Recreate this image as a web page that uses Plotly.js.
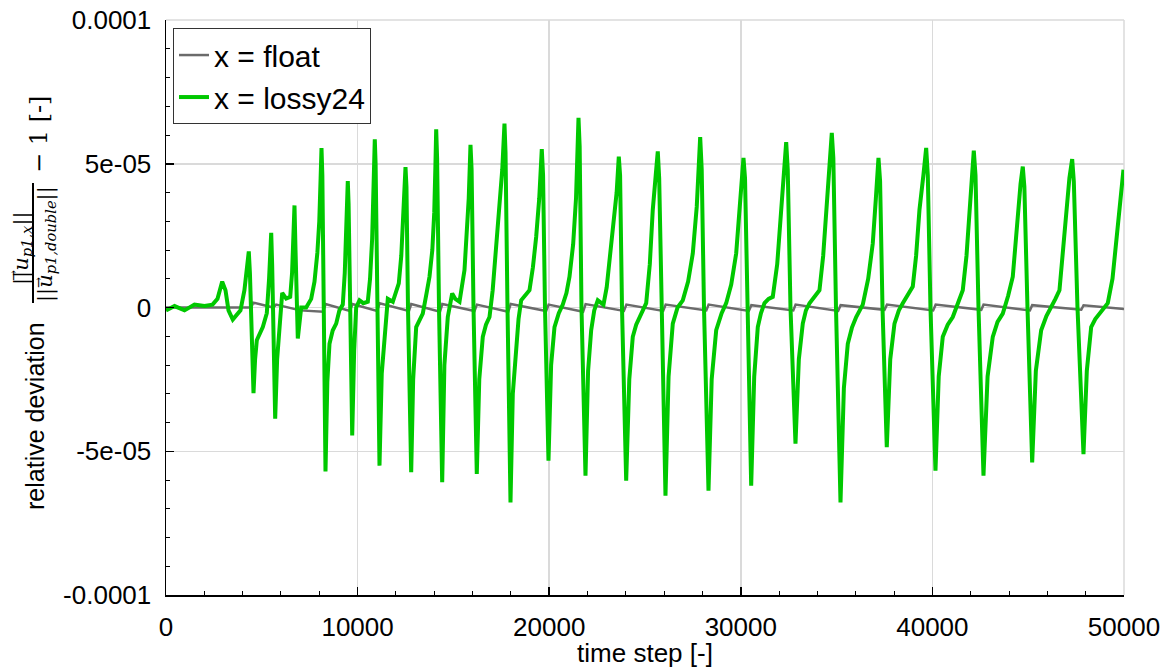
<!DOCTYPE html>
<html>
<head>
<meta charset="utf-8">
<script src="https://cdn.plot.ly/plotly-3.0.1.min.js"></script>
<style>html,body{margin:0;padding:0;background:#fff;}#chart{width:1166px;height:668px;}</style>
</head>
<body>
<div id="chart"></div>
<script>
// green series: time steps and relative deviation (units of 1e-5)
var greenStep = [
 0,444,966,1487,2009,2427,2688,2933,3105,3262,3486,3732,3888,4093,4230,
 4321,4380,4446,4567,4650,4739,5052,5261,5380,5450,
 5491,5540,5584,5699,5800,5924,6065,6273,6482,6580,6650,
 6706,6760,6811,6879,7056,7317,7578,7750,7900,8000,8070,
 8116,8160,8220,8324,8420,8533,8700,8883,9050,9227,9330,9420,
 9488,9530,9603,9718,9820,9926,10099,10300,10532,10650,10760,10840,
 10897,10940,11012,11143,11260,11403,11576,11837,12000,12150,12280,12359,12440,
 12500,12550,12630,12797,12900,13058,13250,13402,13600,13752,13900,14000,14060,
 14102,14150,14248,14415,14530,14707,14937,15100,15318,15579,15700,15800,
 15892,15950,16049,16221,16350,16534,16700,16884,17050,17233,17400,17550,
 17666,17720,17823,17980,18100,18277,18400,18538,18750,18971,19150,19321,19480,
 19613,19680,19780,19963,20100,20276,20500,20709,20900,21059,21250,21400,
 21529,21590,21685,21894,22030,22191,22350,22536,22833,23000,23147,23350,23520,
 23632,23700,23799,24018,24180,24362,24540,24712,24880,25062,25250,25406,25560,
 25667,25740,25860,26069,26230,26450,26700,26972,27250,27494,27700,
 27880,27960,28079,28314,28480,28716,29000,29238,29500,29759,29970,
 30140,30220,30349,30542,30700,30887,31050,31236,31450,31669,31900,32108,32250,
 32369,32450,32593,32854,33030,33235,33400,33585,33850,34106,34300,34456,34620,
 34749,34830,34968,35203,35380,35584,35800,36022,36200,36366,36650,36888,37050,
 37186,37270,37395,37619,37800,38021,38250,38454,38700,38976,39150,39325,39530,
 39675,39760,39899,40160,40330,40541,40800,41063,41300,41585,41780,41935,42060,
 42160,42250,42405,42666,42880,43151,43400,43673,43950,44195,44330,44456,44600,
 44717,44800,44962,45207,45400,45677,45950,46199,46420,46632,46800,46982,47150,
 47295,47380,47572,47885,48060,48287,48500,48720,48950,49153,49400,49592,49800,49972];
var greenVal = [
 -0.1,0.05,-0.1,0.1,0.05,0.1,0.3,0.9,0.6,-0.1,-0.42,-0.25,-0.1,0.6,1.3,
 1.95,1.2,0.0,-2.98,-1.8,-1.14,-0.68,-0.2,1.0,2.0,
 2.6,1.5,0.0,-3.87,-1.8,-0.68,0.51,0.31,0.37,1.2,2.5,
 3.55,2.0,0.0,-1.08,0.0,0.0,0.3,0.9,1.9,3.0,4.5,
 5.55,4.6,0.0,-5.7,-2.6,-1.26,-0.8,-0.56,-0.1,0.1,1.2,2.9,
 4.4,3.6,0.0,-4.45,-1.5,0.0,0.25,0.15,0.2,1.0,2.4,4.2,
 5.85,5.0,0.0,-5.5,-2.3,-1.02,0.3,0.2,0.5,0.84,1.8,2.8,4.0,
 4.88,4.2,0.0,-5.73,-2.5,-0.68,-0.4,-0.21,0.5,1.07,2.0,3.3,4.9,
 6.2,5.2,0.0,-6.08,-2.0,-0.33,0.49,0.3,0.2,1.3,2.5,3.8,
 5.66,4.8,0.0,-5.79,-2.5,-1.02,-0.6,-0.33,0.6,2.0,3.3,4.8,
 6.4,5.4,0.0,-6.78,-3.0,-1.26,-0.4,0.25,0.4,0.6,1.4,2.46,3.8,
 5.51,4.6,0.0,-5.33,-2.0,-0.68,-0.2,0.1,0.5,1.07,2.2,3.8,
 6.6,5.6,0.0,-5.85,-2.2,-0.79,-0.1,0.25,0.1,0.7,1.65,2.8,4.0,
 5.25,4.6,0.0,-6.02,-2.5,-1.02,-0.6,-0.33,-0.1,0.15,1.5,3.4,4.6,
 5.43,4.5,0.0,-6.55,-2.4,-0.56,0.0,0.25,0.9,1.88,3.5,
 5.93,4.8,0.0,-6.37,-2.5,-0.79,-0.2,0.15,0.8,1.88,3.5,
 5.2,4.5,0.0,-6.2,-2.4,-0.68,-0.2,0.15,0.3,0.37,1.5,3.4,4.5,
 5.75,4.8,0.0,-4.74,-1.8,-0.56,-0.1,0.15,0.4,0.6,1.8,3.4,4.8,
 6.07,5.2,0.0,-6.78,-2.8,-1.26,-0.7,-0.33,-0.1,0.1,1.0,2.23,3.8,
 5.2,4.4,0.0,-4.86,-1.8,-0.56,-0.1,0.15,0.4,0.73,1.8,3.4,4.6,
 5.55,4.6,0.0,-5.68,-2.4,-1.02,-0.6,-0.33,0.1,0.6,1.8,3.4,4.6,
 5.46,4.6,0.0,-5.85,-2.4,-1.02,-0.5,-0.21,0.4,1.07,2.2,3.4,4.3,
 4.9,4.2,0.0,-5.39,-2.2,-0.79,-0.3,0.0,0.3,0.6,1.8,3.4,4.5,
 5.16,4.4,0.0,-5.1,-2.2,-0.68,-0.4,-0.21,0.0,0.15,1.0,2.23,3.6,4.79];

// gray series: time steps and relative deviation (units of 1e-5)
var grayStep = [0,2600,4450,4550,5600,5750,7000,8200,8330,9600,9730,11020,11150,12680,12800,14300,14420,16100,16230,17860,17990,19840,19970,21770,21900,23900,24030,25950,26080,28200,28320,30420,30550,32740,32860,35080,35210,37500,37630,40040,40170,42550,42670,45090,45210,47770,47890,50000];
var grayVal = [0.0,0.0,0.0,0.17,0.0,0.1,-0.1,-0.15,0.12,-0.12,0.12,-0.12,0.15,-0.12,0.12,-0.15,0.12,-0.12,0.1,-0.15,0.12,-0.12,0.1,-0.15,0.12,-0.12,0.1,-0.12,0.1,-0.1,0.1,-0.12,0.08,-0.1,0.1,-0.12,0.08,-0.08,0.1,-0.1,0.1,-0.08,0.1,-0.1,0.08,-0.08,0.08,-0.05];

var yTickVals = [-0.0001,-0.00005,0,0.00005,0.0001];
var yTickText = ["-0.0001","-5e-05","0","5e-05","0.0001"];
var xTickVals = [0,10000,20000,30000,40000,50000];
var xTickText = ["0","10000","20000","30000","40000","50000"];
var seriesNames = ["x = float","x = lossy24"];

var scale = 1e-5;
var traces = [
  {x: grayStep, y: grayVal.map(function(v){return v*scale;}), name: seriesNames[0], mode:'lines',
   line:{color:'#6b6b6b', width:2.5}},
  {x: greenStep, y: greenVal.map(function(v){return v*scale;}), name: seriesNames[1], mode:'lines',
   line:{color:'#00c800', width:4}}
];

var F = '"Liberation Sans", Arial, Helvetica, sans-serif';
var SERIF = '"DejaVu Serif", "Liberation Serif", serif';
function px(x){return (x-166)/958;}
function py(y){return (595-y)/575;}

var layout = {
  width:1166, height:668,
  margin:{l:166, r:42, t:20, b:73},
  paper_bgcolor:'#fff', plot_bgcolor:'#fff',
  font:{family:F, color:'#000', size:26},
  showlegend:true,
  legend:{x:0.0073, y:0.986, xanchor:'left', yanchor:'top', bgcolor:'#fff', bordercolor:'#333', borderwidth:1,
          font:{family:F, size:30, color:'#000'}, tracegroupgap:0, itemwidth:30},
  xaxis:{range:[0,50000], tickvals:xTickVals, ticktext:xTickText, ticks:'inside', ticklen:8, tickwidth:1.5, tickcolor:'#000',
         showline:true, linecolor:'#000', linewidth:1.5, showgrid:true, gridcolor:'#dadada', gridwidth:1.5, zeroline:false,
         minor:{dtick:2000, ticks:'inside', ticklen:4, tickcolor:'#000', tickwidth:1, showgrid:false},
         tickfont:{family:F, size:26}, ticklabelstandoff:8,
         title:{text:'time step [-]', font:{family:F, size:26}, standoff:0}},
  yaxis:{range:[-0.0001,0.0001], tickvals:yTickVals, ticktext:yTickText, ticks:'inside', ticklen:8, tickwidth:1.5, tickcolor:'#000',
         showline:true, linecolor:'#000', linewidth:1.5, showgrid:true, gridcolor:'#dadada', gridwidth:1.5, zeroline:false,
         minor:{dtick:0.00001, ticks:'inside', ticklen:4, tickcolor:'#000', tickwidth:1, showgrid:false},
         tickfont:{family:F, size:26}, ticklabelstandoff:8},
  shapes:[
    {type:'line', xref:'paper', yref:'paper', x0:0, x1:1, y0:1, y1:1, line:{color:'#dadada', width:1.5}, layer:'below'},
    {type:'line', xref:'paper', yref:'paper', x0:1, x1:1, y0:0, y1:1, line:{color:'#dadada', width:1.5}, layer:'below'},
    {type:'line', xref:'paper', yref:'paper', x0:px(33), x1:px(33), y0:py(303), y1:py(183), line:{color:'#000', width:2}}
  ],
  annotations:[
    {text:'relative deviation', xref:'paper', yref:'paper', x:px(35), y:py(416), xanchor:'center', yanchor:'middle',
     textangle:-90, showarrow:false, font:{family:F, size:25, color:'#000'}},
    {text:'<i>||u<sub>p1,x</sub>||</i>', xref:'paper', yref:'paper', x:px(22), y:py(248), xanchor:'center', yanchor:'middle',
     textangle:-90, showarrow:false, font:{family:SERIF, size:21, color:'#000'}},
    {text:'\u2192', xref:'paper', yref:'paper', x:px(13), y:py(276), xanchor:'center', yanchor:'middle',
     textangle:-90, showarrow:false, font:{family:SERIF, size:13, color:'#000'}},
    {text:'<i>||u<sub>p1,double</sub>||</i>', xref:'paper', yref:'paper', x:px(46), y:py(244), xanchor:'center', yanchor:'middle',
     textangle:-90, showarrow:false, font:{family:SERIF, size:21, color:'#000'}},
    {text:'\u2192', xref:'paper', yref:'paper', x:px(38), y:py(283), xanchor:'center', yanchor:'middle',
     textangle:-90, showarrow:false, font:{family:SERIF, size:13, color:'#000'}},
    {text:'\u2212 1 [-]', xref:'paper', yref:'paper', x:px(39), y:py(135), xanchor:'center', yanchor:'middle',
     textangle:-90, showarrow:false, font:{family:SERIF, size:24, color:'#000'}}
  ]
};

Plotly.newPlot('chart', traces, layout, {displayModeBar:false, staticPlot:true});
</script>
</body>
</html>
